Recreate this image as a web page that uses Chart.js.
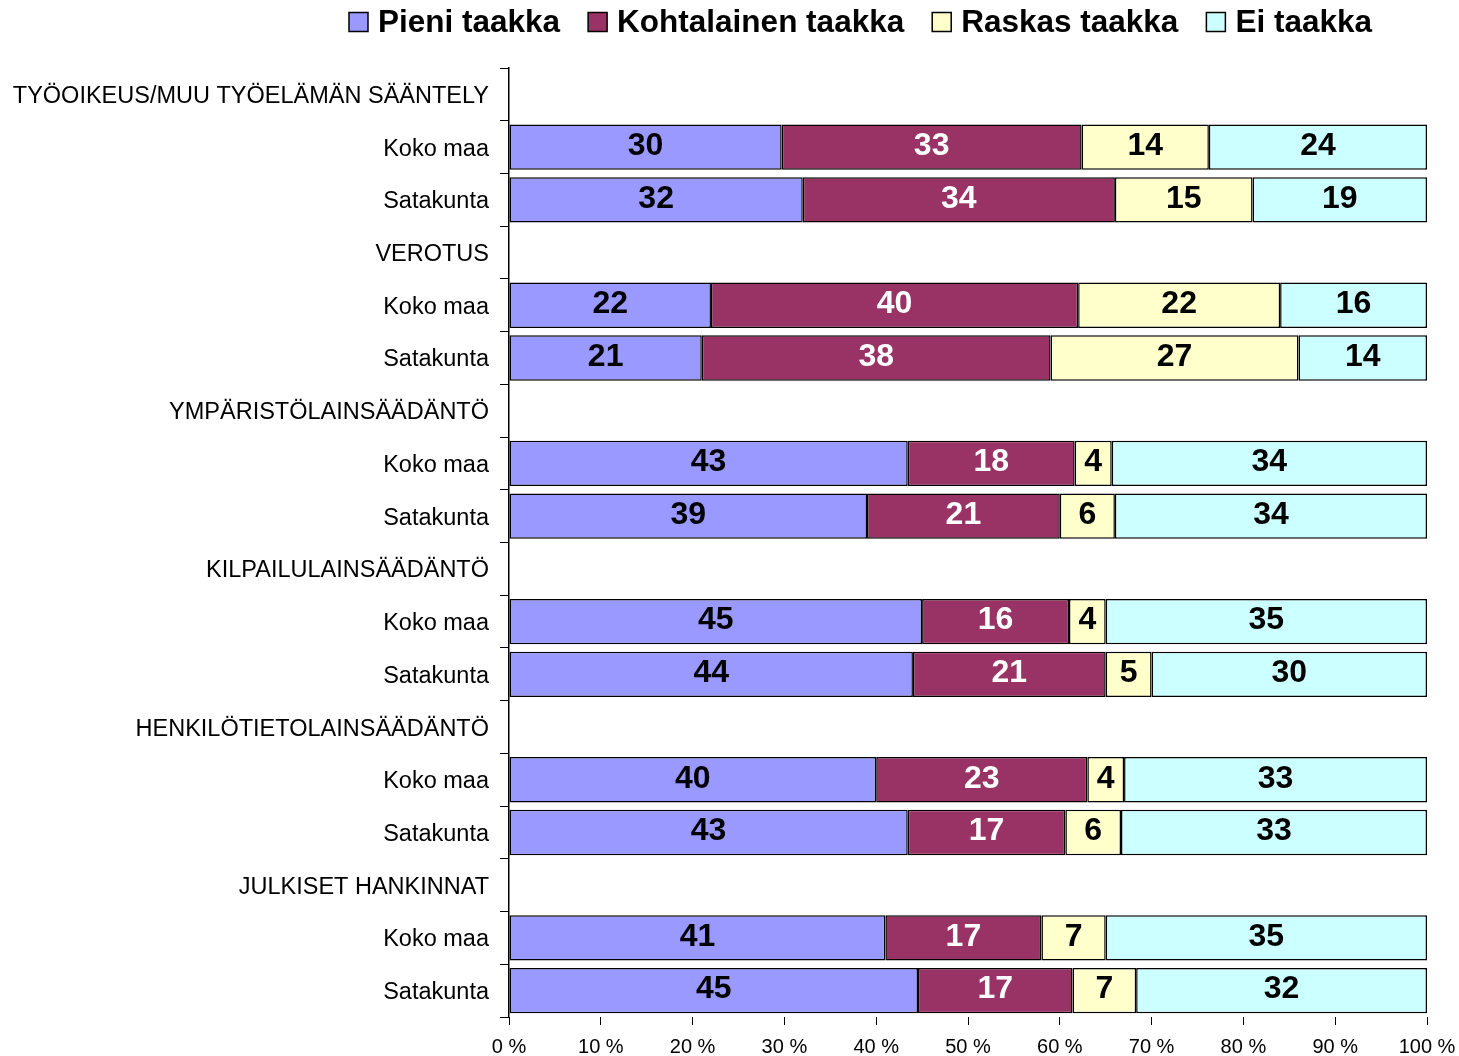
<!DOCTYPE html>
<html>
<head>
<meta charset="utf-8">
<script src="https://cdn.jsdelivr.net/npm/chart.js@4/dist/chart.umd.min.js"></script>
<style>
  body { margin: 0; background: #fff; }
  #wrap { width: 1459px; height: 1056px; }
</style>
</head>
<body>
<div id="wrap"><canvas id="myChart"></canvas></div>
<script>
// rows: group headings have no bars
const categories = [
  'TYÖOIKEUS/MUU TYÖELÄMÄN SÄÄNTELY', 'Koko maa', 'Satakunta',
  'VEROTUS', 'Koko maa', 'Satakunta',
  'YMPÄRISTÖLAINSÄÄDÄNTÖ', 'Koko maa', 'Satakunta',
  'KILPAILULAINSÄÄDÄNTÖ', 'Koko maa', 'Satakunta',
  'HENKILÖTIETOLAINSÄÄDÄNTÖ', 'Koko maa', 'Satakunta',
  'JULKISET HANKINNAT', 'Koko maa', 'Satakunta'
];
const seriesNames = ['Pieni taakka', 'Kohtalainen taakka', 'Raskas taakka', 'Ei taakka'];

const pieni       = [null, 30, 32, null, 22, 21, null, 43, 39, null, 45, 44, null, 40, 43, null, 41, 45];
const kohtalainen = [null, 33, 34, null, 40, 38, null, 18, 21, null, 16, 21, null, 23, 17, null, 17, 17];
const raskas      = [null, 14, 15, null, 22, 27, null,  4,  6, null,  4,  5, null,  4,  6, null,  7,  7];
const eiTaakka    = [null, 24, 19, null, 16, 14, null, 34, 34, null, 35, 30, null, 33, 33, null, 35, 32];

const xTicks = [0, 10, 20, 30, 40, 50, 60, 70, 80, 90, 100];

const FONT = "'Liberation Sans', Arial, sans-serif";
const raw = [pieni, kohtalainen, raskas, eiTaakka];
const colors = ['#9999FF', '#993366', '#FFFFCC', '#CCFFFF'];
const labelColors = ['#000', '#fff', '#000', '#000'];

// 100 % stacked: every row is scaled to its own total
const totals = categories.map((c, i) => raw.reduce((s, arr) => s + (arr[i] || 0), 0));
const toPct = arr => arr.map((v, i) => v == null ? null : v / totals[i] * 100);

const datasets = raw.map((arr, k) => ({
  label: seriesNames[k],
  data: toPct(arr),
  backgroundColor: colors[k],
  borderColor: '#000',
  borderWidth: 1.5,
  borderSkipped: false,
  barPercentage: 0.86,
  categoryPercentage: 1
}));

// numbers inside the bars
const valueLabels = {
  id: 'valueLabels',
  afterDatasetsDraw(chart) {
    const ctx = chart.ctx;
    ctx.save();
    ctx.font = 'bold 32px ' + FONT;
    ctx.textAlign = 'center';
    ctx.textBaseline = 'middle';
    chart.data.datasets.forEach((ds, k) => {
      chart.getDatasetMeta(k).data.forEach((bar, i) => {
        const v = raw[k][i];
        if (v == null) return;
        const p = bar.getCenterPoint();
        ctx.fillStyle = labelColors[k];
        ctx.fillText(String(v), p.x, p.y - 1);
      });
    });
    ctx.restore();
  }
};

// legend row on top
const topLegend = {
  id: 'topLegend',
  afterDraw(chart) {
    const ctx = chart.ctx;
    ctx.save();
    ctx.font = 'bold 31.5px ' + FONT;
    ctx.textBaseline = 'middle';
    ctx.textAlign = 'left';
    let x = 349;
    const y = 22;
    chart.data.datasets.forEach(ds => {
      ctx.fillStyle = ds.backgroundColor;
      ctx.fillRect(x, y - 9.5, 19, 19);
      ctx.strokeStyle = '#000';
      ctx.lineWidth = 1.5;
      ctx.strokeRect(x, y - 9.5, 19, 19);
      ctx.fillStyle = '#000';
      ctx.fillText(ds.label, x + 29, y + 1);
      x += 29 + ctx.measureText(ds.label).width + 28;
    });
    ctx.restore();
  }
};

new Chart(document.getElementById('myChart'), {
  type: 'bar',
  data: { labels: categories, datasets: datasets },
  options: {
    indexAxis: 'y',
    responsive: true,
    maintainAspectRatio: false,
    animation: false,
    layout: { padding: { top: 68, right: 32, left: 0, bottom: 0 } },
    plugins: {
      legend: { display: false },
      tooltip: { enabled: false }
    },
    scales: {
      x: {
        stacked: true,
        min: 0,
        max: 100,
        afterBuildTicks: scale => { scale.ticks = xTicks.map(v => ({ value: v })); },
        afterFit: scale => { scale.height = 39; scale.paddingRight = 0; scale.paddingLeft = 0; },
        grid: { drawOnChartArea: false, tickLength: 8, color: '#000', tickColor: '#000' },
        border: { display: false },
        ticks: {
          color: '#000',
          padding: 10,
          font: { family: FONT, size: 20 },
          callback: v => v + ' %'
        }
      },
      y: {
        stacked: true,
        afterFit: scale => { scale.width = 509; },
        grid: { drawOnChartArea: false, tickLength: 9, color: '#000', tickColor: '#000' },
        border: { display: true, color: '#000', width: 1.5 },
        ticks: {
          color: '#000',
          padding: 11,
          labelOffset: 2,
          autoSkip: false,
          font: { family: FONT, size: 23.5 }
        }
      }
    }
  },
  plugins: [valueLabels, topLegend]
});
</script>
</body>
</html>
